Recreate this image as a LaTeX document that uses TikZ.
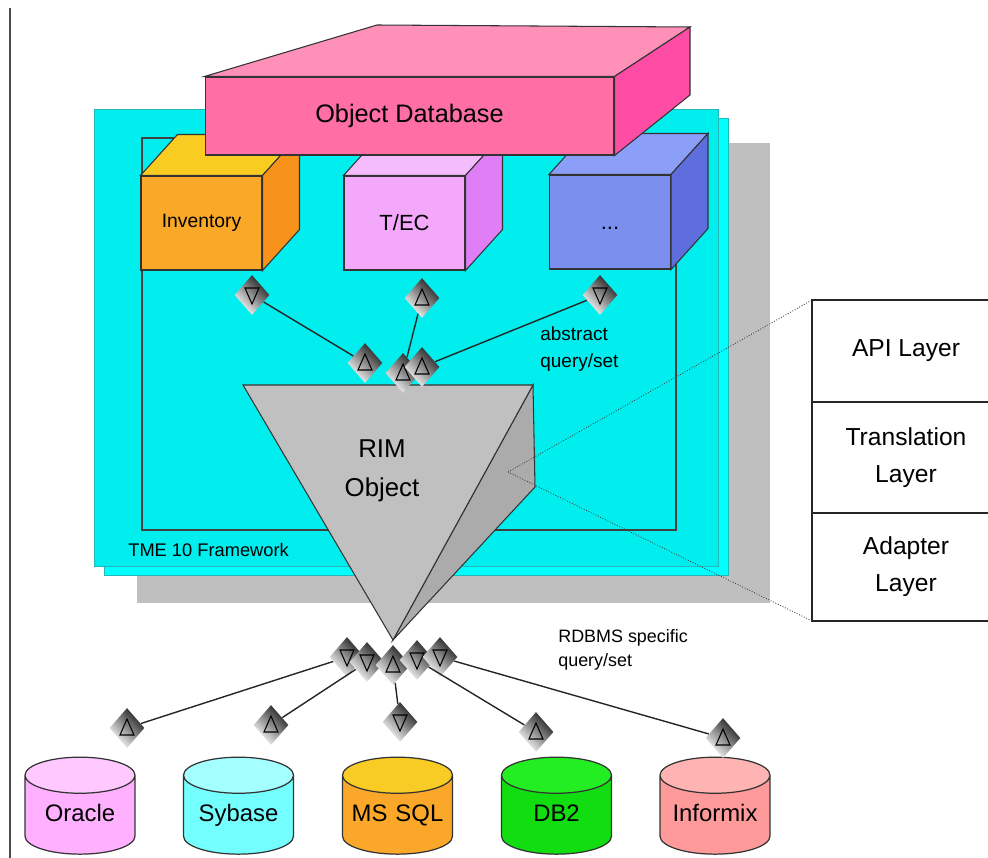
\documentclass[tikz,border=0pt]{standalone}
\usepackage{fontspec}
\setmainfont{Liberation Sans}
\usetikzlibrary{shapes.geometric, positioning}

\definecolor{odbfront}{HTML}{FF6EA5}
\definecolor{odbtop}{HTML}{FF90B8}
\definecolor{odbside}{HTML}{FF4DA6}
\definecolor{invfront}{HTML}{F9A828}
\definecolor{invtop}{HTML}{F9CC22}
\definecolor{invside}{HTML}{F7921A}
\definecolor{tecfront}{HTML}{F4A8FB}
\definecolor{tectop}{HTML}{F4BCFA}
\definecolor{tecside}{HTML}{E07EF8}
\definecolor{dotfront}{HTML}{7B8FEE}
\definecolor{dottop}{HTML}{8B9EF8}
\definecolor{dotside}{HTML}{5E6EDC}
\definecolor{framecyan}{HTML}{00EEEE}
\definecolor{backcyan}{HTML}{00FFFF}
\definecolor{cyanedge}{HTML}{20B8B8}
\definecolor{shadowgray}{HTML}{BFBFBF}
\definecolor{rimfront}{HTML}{C0C0C0}
\definecolor{rimside}{HTML}{ABABAB}
\definecolor{orabody}{HTML}{FFB0FF}
\definecolor{oratop}{HTML}{FFC8FF}
\definecolor{sybbody}{HTML}{74FFFF}
\definecolor{sybtop}{HTML}{A4FFFF}
\definecolor{msbody}{HTML}{FBA82A}
\definecolor{mstop}{HTML}{F9CC25}
\definecolor{dbbody}{HTML}{11DD11}
\definecolor{dbtop}{HTML}{22EE22}
\definecolor{infbody}{HTML}{FF9A9A}
\definecolor{inftop}{HTML}{FFB4B4}

\begin{document}
\begin{tikzpicture}[x=0.02cm, y=-0.02cm]
    % Styles
    \tikzstyle{face} = [draw=black!80, line width=0.6pt]
    \tikzstyle{cube} = [face, minimum width=2.42cm, minimum height=1.88cm, inner sep=0pt]
    \tikzstyle{conn} = [diamond, inner sep=0pt, minimum width=0.7cm, minimum height=0.8cm, top color=black!90, bottom color=white, shading angle=-45]
    \tikzstyle{connup} = [conn, path picture={\draw[line width=0.6pt] ([shift={(0,-9)}]path picture bounding box.center) -- ([shift={(-7,7)}]path picture bounding box.center) -- ([shift={(7,7)}]path picture bounding box.center) -- cycle;}]
    \tikzstyle{conndown} = [conn, path picture={\draw[line width=0.6pt] ([shift={(-7,-7)}]path picture bounding box.center) -- ([shift={(7,-7)}]path picture bounding box.center) -- ([shift={(0,9)}]path picture bounding box.center) -- cycle;}]
    \tikzstyle{link} = [black!85, line width=0.8pt]
    \tikzstyle{guide} = [black!75, line width=0.5pt, densely dotted]
    \tikzstyle{layer} = [draw=black!85, line width=0.8pt, minimum width=3.76cm, inner sep=0pt, outer sep=0pt, align=center, fill=white, font=\fontsize{14}{21}\selectfont]
    \tikzstyle{can} = [cylinder, shape border rotate=90, aspect=0.38, draw=black!80, line width=0.7pt, minimum width=2.2cm, minimum height=1.94cm, inner sep=0pt, text width=1.9cm, align=center, text height=10pt, text depth=3pt, cylinder uses custom fill, font=\fontsize{13.6}{16}\selectfont]
    \tikzstyle{note} = [anchor=west, align=left, inner sep=0pt]

    \useasboundingbox (0,0) rectangle (988,858);
    \clip (0,0) rectangle (988,858);

    % Frame of the page and the framework
    \draw[black!70, line width=0.8pt] (10,8) -- (10,858);
    \fill[shadowgray] (137,143) rectangle (770,603);
    \filldraw[fill=backcyan, draw=cyanedge, line width=0.5pt] (104,118) rectangle (728,575);
    \filldraw[fill=framecyan, draw=cyanedge, line width=0.5pt] (94,109) rectangle (718,566);
    \draw[black!75, line width=0.8pt] (142,138) rectangle (676,530);
    \node[note, font=\fontsize{10.4}{12}\selectfont] (tme) at (128,550) {TME 10 Framework};

    % Cubes
    \node[cube, fill=invfront, font=\fontsize{11}{13}\selectfont] (inv) at (201.5,223) {Inventory};
    \filldraw[face, fill=invtop] (inv.north west) -- ++(37,-41) -- ([shift={(37,-41)}]inv.north east) -- (inv.north east) -- cycle;
    \filldraw[face, fill=invside] (inv.north east) -- ++(37,-41) -- ([shift={(37,-41)}]inv.south east) -- (inv.south east) -- cycle;
    \node[cube, fill=tecfront, font=\fontsize{12.5}{14}\selectfont] (tec) at (404.5,223) {T/EC};
    \filldraw[face, fill=tectop] (tec.north west) -- ++(37,-41) -- ([shift={(37,-41)}]tec.north east) -- (tec.north east) -- cycle;
    \filldraw[face, fill=tecside] (tec.north east) -- ++(37,-41) -- ([shift={(37,-41)}]tec.south east) -- (tec.south east) -- cycle;
    \node[cube, fill=dotfront, font=\fontsize{12.5}{14}\selectfont] (more) at (610,222) {...\vphantom{T}};
    \filldraw[face, fill=dottop] (more.north west) -- ++(37,-41) -- ([shift={(37,-41)}]more.north east) -- (more.north east) -- cycle;
    \filldraw[face, fill=dotside] (more.north east) -- ++(37,-41) -- ([shift={(37,-41)}]more.south east) -- (more.south east) -- cycle;

    % Object database block
    \node[face, fill=odbfront, minimum width=8.18cm, minimum height=1.56cm, inner sep=0pt, font=\fontsize{14.4}{16}\selectfont] (odb) at (409.5,116) {Object Database};
    \filldraw[face, fill=odbtop] (odb.north west) -- (377,25) -- (690,27) -- (odb.north east) -- cycle;
    \filldraw[face, fill=odbside] (odb.north east) -- (690,27) -- (690,95) -- (odb.south east) -- cycle;

    % RIM object
    \filldraw[face, fill=rimside] (533,385) -- (535,487) -- (393,640) -- cycle;
    \filldraw[face, fill=rimfront] (243,385) -- (533,385) -- (393,640) -- cycle;
    \node[align=center, font=\fontsize{14.7}{22}\selectfont] (rim) at (382,471) {RIM\\Object};
    \coordinate (rimside) at (508,472);

    % Layers
    \node[layer, minimum height=2.04cm] (api) at (906,351) {API Layer};
    \node[layer, minimum height=2.22cm, below=0pt of api] (trans) {Translation\\Layer};
    \node[layer, minimum height=2.16cm, below=0pt of trans] (adapt) {Adapter\\Layer};
    \draw[guide] (rimside) -- (api.north west);
    \draw[guide] (rimside) -- (adapt.south west);

    % Abstract query/set connectors
    \node[conndown] (absinv) at (252,295) {};
    \node[connup] (abstec) at (422,298) {};
    \node[conndown] (absmore) at (600,295) {};
    \node[connup] (riminv) at (365,363) {};
    \node[connup] (rimtec) at (403,373) {};
    \node[connup] (rimmore) at (422,367) {};
    \draw[link] (absinv) -- (riminv);
    \draw[link] (abstec) -- (rimtec);
    \draw[link] (absmore) -- (rimmore);
    \node[note, font=\fontsize{10.8}{15.3}\selectfont] (absnote) at (540,349) {abstract\\query/set};

    % Databases
    \node[can, cylinder body fill=orabody, cylinder end fill=oratop] (oracle) at (80,815) {Oracle};
    \node[can, cylinder body fill=sybbody, cylinder end fill=sybtop] (sybase) at (238.5,815) {Sybase};
    \node[can, cylinder body fill=msbody, cylinder end fill=mstop] (mssql) at (397.5,815) {MS SQL};
    \node[can, cylinder body fill=dbbody, cylinder end fill=dbtop] (dbtwo) at (556.5,815) {DB2};
    \node[can, cylinder body fill=infbody, cylinder end fill=inftop] (informix) at (715,815) {Informix};

    % RDBMS specific connectors
    \node[conndown] (specora) at (347,657) {};
    \node[conndown] (specsyb) at (367,662) {};
    \node[connup] (specms) at (393,665) {};
    \node[conndown] (specdb) at (417,660) {};
    \node[conndown] (specinf) at (440,657) {};
    \node[connup] (oraq) at (127,728) {};
    \node[connup] (sybq) at (271,725) {};
    \node[conndown] (msq) at (400,722) {};
    \node[connup] (dbq) at (536,732) {};
    \node[connup] (infq) at (723,738) {};
    \draw[link] (specora) -- (oraq);
    \draw[link] (specsyb) -- (sybq);
    \draw[link] (specms) -- (msq);
    \draw[link] (specdb) -- (dbq);
    \draw[link] (specinf) -- (infq);
    \node[note, font=\fontsize{10.2}{14}\selectfont] (specnote) at (558,650) {RDBMS specific\\query/set};
\end{tikzpicture}
\end{document}
